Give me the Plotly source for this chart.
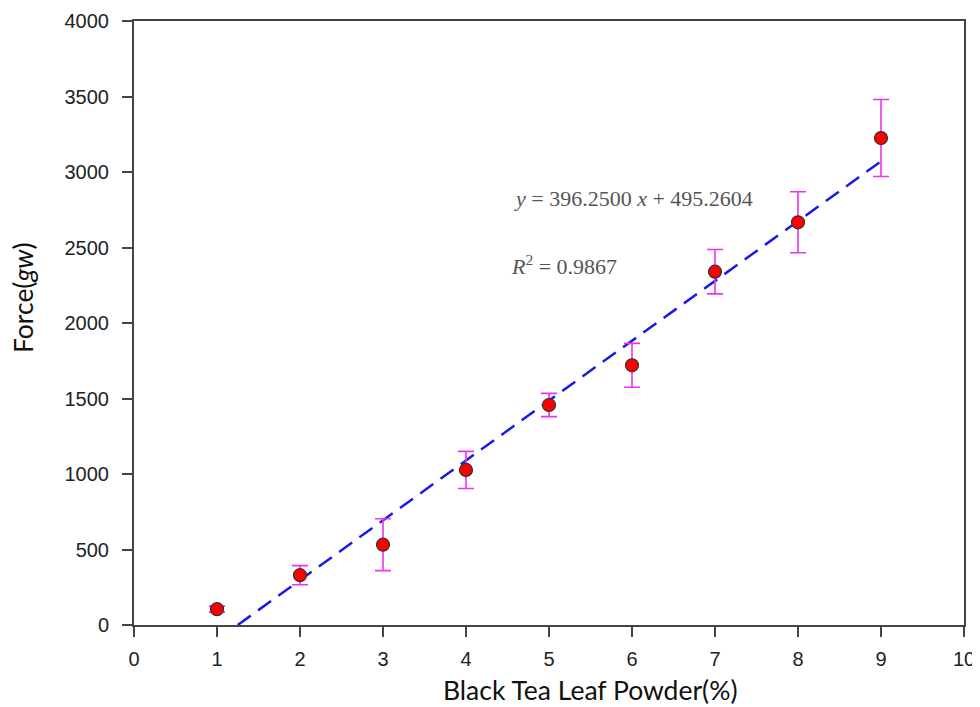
import plotly.graph_objects as go

# Data
powder_pct = [1, 2, 3, 4, 5, 6, 7, 8, 9]
force_gw = [105, 330, 532, 1027, 1457, 1720, 2340, 2667, 3225]
force_err = [20, 63, 172, 123, 77, 145, 147, 202, 255]

# Regression line (y = 396.25 x - 495.2604), drawn over the range shown
slope = 396.25
intercept = -495.2604
fit_x = [1.25, 9.0]
fit_y = [slope * v + intercept for v in fit_x]

x_ticks = list(range(0, 11))
y_ticks = list(range(0, 4001, 500))

x_title = "Black Tea Leaf Powder(%)"
y_title = "Force(<i>gw</i>)"
eq_text = "<i>y</i> = 396.2500 <i>x</i> + 495.2604"
r2_text = "<i>R</i><sup>2</sup> = 0.9867"

# Page body has an 8px margin; figure sized to fit the 980x707 window
W, H = 972, 699
ML, MR, MT, MB = 126, 16, 13, 82
OFF = 8

fig = go.Figure()

fig.add_trace(go.Scatter(
    x=fit_x, y=fit_y, mode="lines",
    line=dict(color="#1a1ae6", width=2.5, dash="16px,9px"),
    showlegend=False, hoverinfo="skip",
))

fig.add_trace(go.Scatter(
    x=powder_pct, y=force_gw, mode="markers",
    marker=dict(color="#ff0000", size=13, line=dict(color="#333333", width=1.2)),
    error_y=dict(type="data", array=force_err, visible=True,
                 color="#ee33ee", thickness=1.6, width=8),
    showlegend=False,
))

axis_common = dict(
    showgrid=False, zeroline=False, automargin=False,
    showline=True, linecolor="#444444", linewidth=2, mirror=True,
    ticks="outside", ticklen=10, tickwidth=2, tickcolor="#444444",
    tickfont=dict(family="Liberation Sans, Arial, sans-serif", size=20, color="#222222"),
)

fig.update_layout(
    width=W, height=H,
    margin=dict(l=ML, r=MR, t=MT, b=MB),
    paper_bgcolor="white", plot_bgcolor="white",
    xaxis=dict(
        range=[0, 10], tickvals=x_ticks, ticktext=[str(v) for v in x_ticks],
        ticklabelstandoff=5,
        **axis_common,
    ),
    yaxis=dict(
        range=[0, 4000], tickvals=y_ticks, ticktext=[str(v) for v in y_ticks],
        ticklabelstandoff=9,
        **axis_common,
    ),
)

pw = W - ML - MR
ph = H - MT - MB


def paper_xy(px, py):
    return (px - OFF - ML) / pw, 1 - (py - OFF - MT) / ph


title_font = dict(family="Lato, Open Sans, sans-serif", size=26.5, color="#111111")
tx, ty = paper_xy(590, 690)
fig.add_annotation(x=tx, y=ty, xref="paper", yref="paper", showarrow=False,
                   text=x_title, font=title_font, xanchor="center", yanchor="middle")
yx, yy = paper_xy(23, 298)
fig.add_annotation(x=yx, y=yy, xref="paper", yref="paper", showarrow=False,
                   text=y_title, font=title_font, textangle=-90,
                   xanchor="center", yanchor="middle")

ann_font = dict(family="Liberation Serif, Times New Roman, serif", size=22, color="#555555")
ex, ey = paper_xy(512, 198)
rx, ry = paper_xy(509, 265)
fig.add_annotation(x=ex, y=ey, xref="paper", yref="paper", showarrow=False,
                   text=eq_text, font=ann_font, xanchor="left", yanchor="middle")
fig.add_annotation(x=rx, y=ry, xref="paper", yref="paper", showarrow=False,
                   text=r2_text, font=ann_font, xanchor="left", yanchor="middle")

fig.write_html("out.html")
